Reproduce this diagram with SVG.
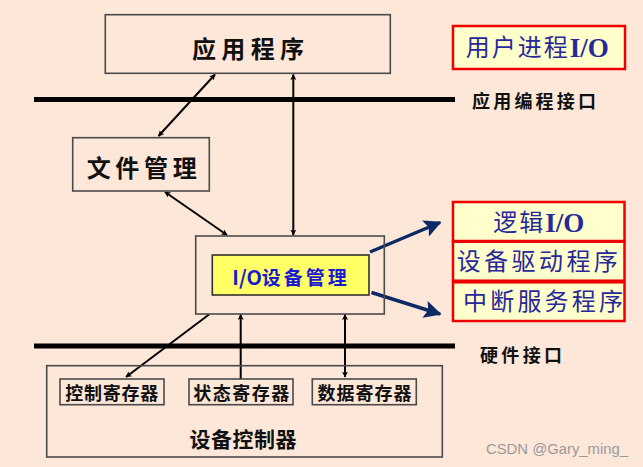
<svg xmlns="http://www.w3.org/2000/svg" width="643" height="467" viewBox="0 0 643 467">
<defs>
<style>
.box{fill:none;stroke:#4a4a4a;stroke-width:1.6}
.bar{stroke:#000;stroke-width:5}
.cn{font-family:"Noto Sans CJK SC","Noto Sans CJK JP",sans-serif;font-weight:bold;fill:#111;text-anchor:middle;dominant-baseline:central}
.bl{font-family:"Liberation Serif","Noto Sans CJK SC",serif;fill:#28289a;text-anchor:middle;dominant-baseline:central}
.bls{font-family:"Liberation Serif","Noto Sans CJK SC",serif;fill:#28289a;text-anchor:start;dominant-baseline:central}
.io{font-weight:bold;font-size:27px}
.rb{fill:#ffffcc;stroke:#ee0000;stroke-width:2.5}
.ln{stroke:#000;stroke-width:2;fill:none}
.nv{stroke:#0c2a66;stroke-width:3.5;fill:none}
</style>
<marker id="ah" viewBox="0 0 10 10" refX="9" refY="5" markerWidth="6" markerHeight="6" orient="auto-start-reverse" markerUnits="userSpaceOnUse">
<path d="M0,0 L10,5 L0,10 L2.5,5 z" fill="#000"/>
</marker>
<marker id="nh" viewBox="0 0 10 10" refX="9" refY="5" markerWidth="5" markerHeight="5" orient="auto" markerUnits="strokeWidth">
<path d="M0,0 L10,5 L0,10 L2,5 z" fill="#0c2a66"/>
</marker>
</defs>
<rect width="643" height="467" fill="#fde7d8"/>

<g id="connectors">
<line class="ln" x1="158.5" y1="136" x2="215" y2="74.5" marker-start="url(#ah)" marker-end="url(#ah)"/>
<line class="ln" x1="293.3" y1="74.5" x2="293.3" y2="235" marker-start="url(#ah)" marker-end="url(#ah)"/>
<line class="ln" x1="165" y1="192" x2="227" y2="235" marker-start="url(#ah)" marker-end="url(#ah)"/>
<line class="nv" x1="370" y1="252" x2="440" y2="222.5" marker-end="url(#nh)"/>
<line class="nv" x1="371.5" y1="292.5" x2="440" y2="314" marker-end="url(#nh)"/>
<line class="ln" x1="209" y1="314.5" x2="126" y2="377" marker-end="url(#ah)"/>
<line class="ln" x1="240.7" y1="379" x2="240.7" y2="314.5" marker-end="url(#ah)"/>
<line class="ln" x1="345" y1="314.5" x2="345" y2="377" marker-start="url(#ah)" marker-end="url(#ah)"/>
</g>

<g id="api-line">
<line class="bar" x1="34" y1="99.5" x2="455" y2="99.5"/>
<text class="cn" x="534" y="100" font-size="18" textLength="124" lengthAdjust="spacing">应用编程接口</text>
</g>
<g id="hw-line">
<line class="bar" x1="34" y1="346" x2="455" y2="346"/>
<text class="cn" x="521" y="354" font-size="18" textLength="82" lengthAdjust="spacing">硬件接口</text>
</g>

<g id="app">
<rect class="box" x="105.3" y="14.7" width="285" height="58.6"/>
<text class="cn" x="248" y="47" font-size="24" textLength="112" lengthAdjust="spacing">应用程序</text>
</g>

<g id="user-io">
<rect class="rb" x="453" y="26" width="172" height="43" stroke-width="3"/>
<text class="bls" x="465.7" y="47.5"><tspan font-size="24" letter-spacing="2">用户进程</tspan><tspan class="io">I/O</tspan></text>
</g>

<g id="file">
<rect class="box" x="72.7" y="137.7" width="136.6" height="53.3"/>
<text class="cn" x="141.7" y="166" font-size="24" textLength="110" lengthAdjust="spacing">文件管理</text>
</g>

<g id="io-mgr">
<rect class="box" x="195.7" y="236" width="188.6" height="78"/>
<rect x="212.3" y="255" width="156.7" height="40" fill="#ffff66" stroke="#333" stroke-width="1.6"/>
<text x="232.3" y="275.5" font-family="Noto Sans CJK SC, sans-serif" font-weight="bold" fill="#1a1ad0" text-anchor="start" dominant-baseline="central"><tspan font-size="20">I/O</tspan><tspan font-size="19" letter-spacing="3">设备管理</tspan></text>
</g>

<g id="logic-io">
<rect class="rb" x="453" y="202" width="171.5" height="39"/>
<text class="bls" x="493.3" y="222.5"><tspan font-size="24" letter-spacing="2">逻辑</tspan><tspan class="io">I/O</tspan></text>
</g>
<g id="driver">
<rect class="rb" x="453" y="241.7" width="171.5" height="39"/>
<text class="bl" x="537.3" y="261.5" font-size="24" textLength="161" lengthAdjust="spacing">设备驱动程序</text>
</g>
<g id="isr">
<rect class="rb" x="453" y="282.3" width="171.5" height="38.7"/>
<text class="bl" x="543" y="301.5" font-size="24" textLength="160" lengthAdjust="spacing">中断服务程序</text>
</g>

<g id="controller">
<rect class="box" x="46.7" y="365.7" width="395.6" height="91.3"/>
<text class="cn" x="243" y="437.5" font-size="21" textLength="107" lengthAdjust="spacing">设备控制器</text>
</g>
<g id="ctrl-reg">
<rect class="box" x="60" y="379" width="104" height="25.7"/>
<text class="cn" x="111.7" y="392" font-size="18" textLength="93" lengthAdjust="spacing">控制寄存器</text>
</g>
<g id="status-reg">
<rect class="box" x="189" y="379" width="104" height="25.7"/>
<text class="cn" x="241.3" y="392" font-size="18" textLength="96" lengthAdjust="spacing">状态寄存器</text>
</g>
<g id="data-reg">
<rect class="box" x="312.3" y="379" width="104" height="25.7"/>
<text class="cn" x="364.5" y="392" font-size="18" textLength="94" lengthAdjust="spacing">数据寄存器</text>
</g>

<text x="486" y="448.5" font-size="15.5" textLength="142" lengthAdjust="spacingAndGlyphs" font-family="Liberation Sans, Arial, sans-serif" fill="#9a9a9a" dominant-baseline="central">CSDN @Gary_ming_</text>
</svg>
